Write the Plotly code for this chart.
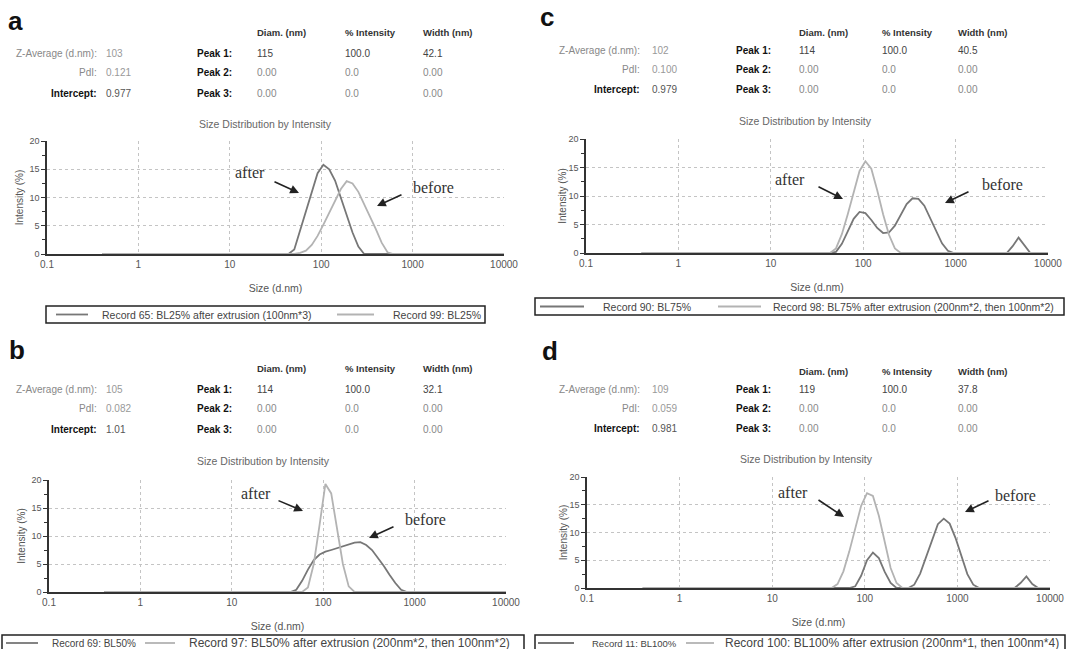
import plotly.graph_objects as go

W, H = 1066, 649

# ---------------- data ----------------
# Panel a (BL25%)
A_AFTER_SIZE = [0.4, 43.82, 50.75, 58.77, 68.06, 78.82, 91.28, 105.7, 122.4, 141.8, 164.2, 190.1, 220.2, 255.0, 295.3, 342.0, 10000]
A_AFTER_INT = [0, 0, 0.8, 4.2, 7.9, 11.0, 14.3, 15.8, 15.0, 13.0, 10.0, 6.8, 3.8, 1.3, 0, 0, 0]
A_BEFORE_SIZE = [0.4, 50.75, 58.77, 68.06, 78.82, 91.28, 105.7, 122.4, 141.8, 164.2, 190.1, 220.2, 255.0, 295.3, 342.0, 396.1, 458.7, 531.2, 615.1, 10000]
A_BEFORE_INT = [0, 0, 0.2, 0.6, 1.6, 3.2, 5.2, 7.4, 9.6, 11.5, 12.9, 12.5, 11.0, 8.9, 6.7, 4.4, 2.0, 0.3, 0, 0]

# Panel b (BL50%)
B_AFTER_SIZE = [0.4, 58.77, 68.06, 78.82, 91.28, 105.7, 122.4, 141.8, 164.2, 190.1, 220.2, 10000]
B_AFTER_INT = [0, 0, 0.8, 5.0, 12.0, 19.3, 17.6, 11.2, 5.0, 1.0, 0, 0]
B_BEFORE_SIZE = [0.4, 43.82, 50.75, 58.77, 68.06, 78.82, 91.28, 105.7, 122.4, 141.8, 164.2, 190.1, 220.2, 255.0, 295.3, 342.0, 396.1, 458.7, 531.2, 615.1, 712.4, 825.0, 10000]
B_BEFORE_INT = [0, 0, 0.4, 2.0, 4.0, 5.7, 6.7, 7.2, 7.5, 7.8, 8.1, 8.5, 8.8, 8.9, 8.4, 7.5, 6.2, 4.7, 3.1, 1.6, 0.4, 0, 0]

# Panel c (BL75%)
C_AFTER_SIZE = [0.4, 43.82, 50.75, 58.77, 68.06, 78.82, 91.28, 105.7, 122.4, 141.8, 164.2, 190.1, 220.2, 255.0, 10000]
C_AFTER_INT = [0, 0, 0.8, 3.3, 6.8, 10.6, 14.4, 16.1, 14.8, 11.0, 6.8, 3.2, 0.8, 0, 0]
C_BEFORE_SIZE = [0.4, 43.82, 50.75, 58.77, 68.06, 78.82, 91.28, 105.7, 122.4, 141.8, 164.2, 190.1, 220.2, 255.0, 295.3, 342.0, 396.1, 458.7, 531.2, 615.1, 712.4, 825.0, 955.4, 3580, 4145, 4801, 5560, 6439, 10000]
C_BEFORE_INT = [0, 0, 0.2, 1.6, 3.8, 6.0, 7.2, 7.0, 5.8, 4.4, 3.5, 3.6, 4.8, 6.8, 8.6, 9.6, 9.5, 8.3, 6.2, 3.8, 1.7, 0.4, 0, 0, 1.2, 2.7, 1.4, 0, 0]

# Panel d (BL100%)
D_AFTER_SIZE = [0.4, 43.82, 50.75, 58.77, 68.06, 78.82, 91.28, 105.7, 122.4, 141.8, 164.2, 190.1, 220.2, 255.0, 10000]
D_AFTER_INT = [0, 0, 0.7, 3.0, 6.6, 10.8, 14.8, 17.1, 16.6, 13.0, 8.3, 3.6, 0.9, 0, 0]
D_BEFORE_SIZE = [0.4, 68.06, 78.82, 91.28, 105.7, 122.4, 141.8, 164.2, 190.1, 220.2, 295.3, 342.0, 396.1, 458.7, 531.2, 615.1, 712.4, 825.0, 955.4, 1106, 1281, 1484, 1718, 4145, 4801, 5560, 6439, 7456, 10000]
D_BEFORE_INT = [0, 0, 0.3, 2.2, 5.0, 6.4, 5.4, 2.9, 0.9, 0, 0, 0.6, 2.6, 5.6, 8.9, 11.5, 12.5, 11.6, 9.0, 5.6, 2.5, 0.6, 0, 0, 0.9, 2.1, 0.7, 0, 0]

# axis ticks
X_TICKS = [0.1, 1, 10, 100, 1000, 10000]
X_TICKTEXT = ["0.1", "1", "10", "100", "1000", "10000"]
Y_TICKS = [0, 5, 10, 15, 20]

# table text
SUMMARY_LABELS = ["Z-Average (d.nm):", "PdI:", "Intercept:"]
PEAK_LABELS = ["Peak 1:", "Peak 2:", "Peak 3:"]
COL_HEADERS = ["Diam. (nm)", "% Intensity", "Width (nm)"]
A_SUMMARY = ["103", "0.121", "0.977"]
B_SUMMARY = ["105", "0.082", "1.01"]
C_SUMMARY = ["102", "0.100", "0.979"]
D_SUMMARY = ["109", "0.059", "0.981"]
A_PEAKS = [["115", "100.0", "42.1"], ["0.00", "0.0", "0.00"], ["0.00", "0.0", "0.00"]]
B_PEAKS = [["114", "100.0", "32.1"], ["0.00", "0.0", "0.00"], ["0.00", "0.0", "0.00"]]
C_PEAKS = [["114", "100.0", "40.5"], ["0.00", "0.0", "0.00"], ["0.00", "0.0", "0.00"]]
D_PEAKS = [["119", "100.0", "37.8"], ["0.00", "0.0", "0.00"], ["0.00", "0.0", "0.00"]]

A_NAMES = ["Record 65: BL25% after extrusion (100nm*3)", "Record 99: BL25%"]
B_NAMES = ["Record 69: BL50%", "Record 97: BL50% after extrusion (200nm*2, then 100nm*2)"]
C_NAMES = ["Record 90: BL75%", "Record 98: BL75% after extrusion (200nm*2, then 100nm*2)"]
D_NAMES = ["Record 11: BL100%", "Record 100: BL100% after extrusion (200nm*1, then 100nm*4)"]

# ---------------- styling / layout constants ----------------
FONT = "Liberation Sans"
DARK = "#777777"
LIGHT = "#b3b3b3"


def fx(p):
    return p / W


def fy(p):
    return 1 - p / H


PANELS = [
    dict(letter="a", n=1, x0=47, x1=504, ytop=141, ybot=254, let=(15.5, 21), title=(265, 124),
         hdr_y=33, rows=[53, 73, 94], lab_r=99, val_l=104, peak_l=195, cols=[255, 343, 421],
         summary=A_SUMMARY, peaks=A_PEAKS, ystand=4,
         series=[(A_NAMES[0], A_AFTER_SIZE, A_AFTER_INT, DARK),
                 (A_NAMES[1], A_BEFORE_SIZE, A_BEFORE_INT, LIGHT)],
         leg=dict(box=(46, 306, 485, 323), l1=(56, 88), t1=100, l2=(337, 374), t2=391, y=314.5, s1=10.5, s2=10.5),
         after=((250, 172), (273, 181), (299, 193)), before=((433, 187), (403, 194), (377, 206))),
    dict(letter="b", n=2, x0=49, x1=506, ytop=480, ybot=592, let=(17, 350), title=(263, 461),
         hdr_y=369, rows=[389, 409, 429], lab_r=99, val_l=104, peak_l=195, cols=[255, 343, 421],
         summary=B_SUMMARY, peaks=B_PEAKS, ystand=4,
         series=[(B_NAMES[0], B_BEFORE_SIZE, B_BEFORE_INT, DARK),
                 (B_NAMES[1], B_AFTER_SIZE, B_AFTER_INT, LIGHT)],
         leg=dict(box=(2, 635, 524, 656), l1=(6, 38), t1=50, l2=(145, 175), t2=187, y=643, s1=10, s2=12),
         after=((256, 493), (277, 500), (303, 511)), before=((425, 519), (395, 526), (369, 538))),
    dict(letter="c", n=3, x0=586, x1=1048, ytop=139, ybot=253, let=(547, 17), title=(805, 121),
         hdr_y=32, rows=[50, 70, 90], lab_r=642, val_l=650, peak_l=734, cols=[797, 880, 956],
         summary=C_SUMMARY, peaks=C_PEAKS, ystand=0,
         series=[(C_NAMES[0], C_BEFORE_SIZE, C_BEFORE_INT, DARK),
                 (C_NAMES[1], C_AFTER_SIZE, C_AFTER_INT, LIGHT)],
         leg=dict(box=(535, 298, 1064, 315), l1=(540, 584), t1=601, l2=(718, 761), t2=771, y=306.5, s1=10.5, s2=10.5),
         after=((790, 180), (817, 186), (843, 199)), before=((1002, 184), (970, 191), (945, 203))),
    dict(letter="d", n=4, x0=587, x1=1050, ytop=477, ybot=588, let=(550, 351), title=(806, 459),
         hdr_y=372, rows=[389, 408, 428], lab_r=642, val_l=650, peak_l=734, cols=[797, 880, 956],
         summary=D_SUMMARY, peaks=D_PEAKS, ystand=0,
         series=[(D_NAMES[0], D_BEFORE_SIZE, D_BEFORE_INT, DARK),
                 (D_NAMES[1], D_AFTER_SIZE, D_AFTER_INT, LIGHT)],
         leg=dict(box=(535, 635, 1065, 656), l1=(538, 574), t1=590, l2=(686, 714), t2=723, y=643, s1=9.5, s2=12),
         after=((793, 492), (817, 499), (844, 517)), before=((1015, 495), (990, 500), (965, 512))),
]

fig = go.Figure()
annotations = []
shapes = []
layout = dict(
    width=W, height=H,
    margin=dict(l=0, r=0, t=0, b=0, autoexpand=False),
    paper_bgcolor="white", plot_bgcolor="white",
    font=dict(family=FONT, color="#333"),
    showlegend=False,
)


def label(text, x, y, size, color, xanchor="left", family=None):
    f = dict(size=size, color=color)
    if family:
        f["family"] = family
    return dict(text=text, x=fx(x), y=fy(y), xref="paper", yref="paper",
                xanchor=xanchor, yanchor="middle", showarrow=False, font=f)


for p in PANELS:
    n = p["n"]
    sfx = "" if n == 1 else str(n)
    for name, xs, ys, col in p["series"]:
        fig.add_trace(go.Scatter(
            x=xs, y=ys, mode="lines", name=name,
            line=dict(color=col, width=1.8),
            xaxis=f"x{sfx}", yaxis=f"y{sfx}",
        ))
    layout[f"xaxis{sfx}"] = dict(
        domain=[fx(p["x0"]), fx(p["x1"])], anchor=f"y{sfx}",
        type="log", range=[-1, 4],
        tickvals=X_TICKS, ticktext=X_TICKTEXT,
        tickfont=dict(size=10, color="#555"),
        showline=True, linecolor="#333", linewidth=1.5,
        showgrid=True, gridcolor="#c4c4c4", griddash="dot", gridwidth=1,
        zeroline=False, ticks="",
        title=dict(text="Size (d.nm)", font=dict(size=10.5, color="#555"), standoff=16),
    )
    layout[f"yaxis{sfx}"] = dict(
        domain=[fy(p["ybot"]), fy(p["ytop"])], anchor=f"x{sfx}",
        range=[0, 20], tickvals=Y_TICKS,
        tickfont=dict(size=9, color="#555"),
        ticks="outside", ticklen=4, tickcolor="#333", tickwidth=1.2,
        minor=dict(dtick=2.5, ticks="outside", ticklen=3, tickcolor="#333", showgrid=False),
        showline=True, linecolor="#333", linewidth=1.5,
        showgrid=True, gridcolor="#c4c4c4", griddash="dot", gridwidth=1,
        zeroline=False,
        title=dict(text="Intensity (%)", font=dict(size=10, color="#555"), standoff=p["ystand"]),
    )

    # manual legend box (one per panel)
    lg = p["leg"]
    bx0, by0, bx1, by1 = lg["box"]
    shapes.append(dict(type="rect", xref="paper", yref="paper",
                       x0=fx(bx0), x1=fx(bx1), y0=fy(by1), y1=fy(by0),
                       line=dict(color="#222", width=1.5), fillcolor="rgba(0,0,0,0)"))
    for (lx0, lx1), tx, ts, (name, _, _, col) in zip((lg["l1"], lg["l2"]), (lg["t1"], lg["t2"]),
                                                      (lg["s1"], lg["s2"]), p["series"]):
        shapes.append(dict(type="line", xref="paper", yref="paper",
                           x0=fx(lx0), x1=fx(lx1), y0=fy(lg["y"]), y1=fy(lg["y"]),
                           line=dict(color=col, width=1.8)))
        annotations.append(label(name, tx, lg["y"], ts, "#444"))

    # panel letter
    annotations.append(label(f"<b>{p['letter']}</b>", p["let"][0], p["let"][1], 26, "#111", xanchor="center"))
    # chart title
    annotations.append(label("Size Distribution by Intensity", p["title"][0], p["title"][1], 10.5, "#666",
                             xanchor="center"))
    # column headers
    for cx, htxt in zip(p["cols"], COL_HEADERS):
        annotations.append(label(f"<b>{htxt}</b>", cx, p["hdr_y"], 9.5, "#333"))
    # summary rows + peak rows
    for i, ry in enumerate(p["rows"]):
        lab = SUMMARY_LABELS[i]
        lab_col = "#111" if i == 2 else "#888"
        lab_txt = f"<b>{lab}</b>" if i == 2 else lab
        annotations.append(label(lab_txt, p["lab_r"], ry, 10, lab_col, xanchor="right"))
        annotations.append(label(p["summary"][i], p["val_l"], ry, 10, "#555" if i == 2 else "#999"))
        annotations.append(label(f"<b>{PEAK_LABELS[i]}</b>", p["peak_l"], ry, 10, "#111"))
        for cx, v in zip(p["cols"], p["peaks"][i]):
            annotations.append(label(v, cx, ry, 10, "#444" if i == 0 else "#888"))
    # after / before arrows
    for key in ("after", "before"):
        (tx, ty), (ax0, ay0), (hx, hy) = p[key]
        annotations.append(label(key, tx, ty, 16, "#333", xanchor="center", family="Liberation Serif"))
        annotations.append(dict(text="", x=fx(hx), y=fy(hy), xref="paper", yref="paper",
                                ax=ax0 - hx, ay=ay0 - hy, axref="pixel", ayref="pixel",
                                showarrow=True, arrowhead=2, arrowsize=1.1, arrowwidth=1.6,
                                arrowcolor="#222"))

layout["annotations"] = annotations
layout["shapes"] = shapes
fig.update_layout(**layout)
fig.write_html("out.html", config={"displayModeBar": False},
               post_script="document.body.style.margin='0px';document.body.style.overflow='hidden';")
